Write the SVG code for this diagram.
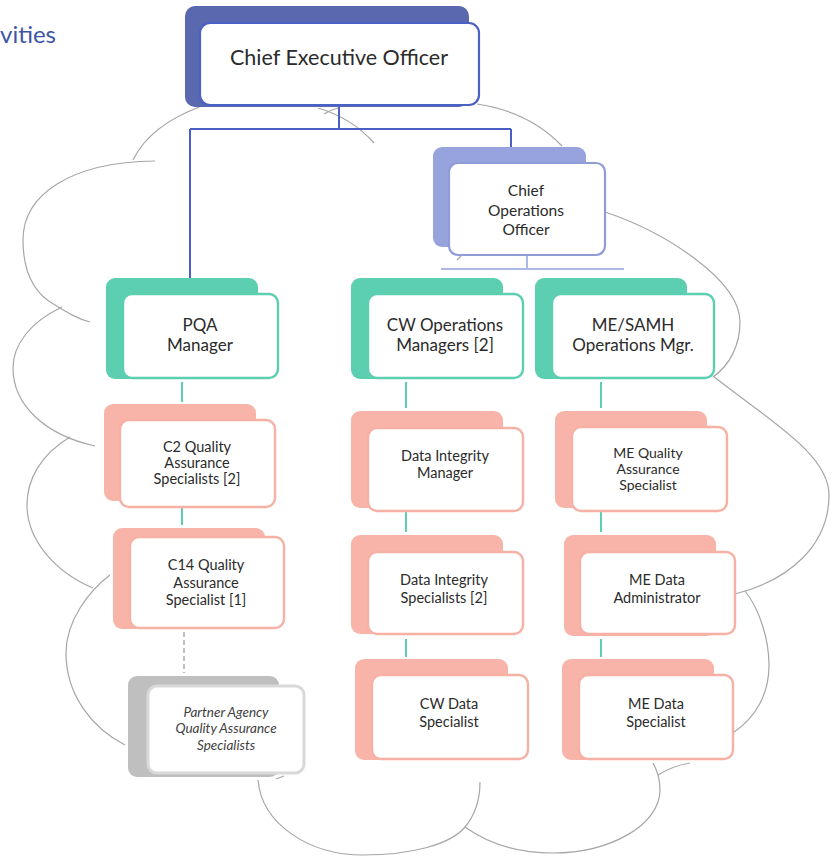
<svg xmlns="http://www.w3.org/2000/svg" width="833" height="856" viewBox="0 0 833 856">
<style>
.cloud{fill:none;stroke:#A6A6A6;stroke-width:1.2}
.t{font-family:Lato,"Open Sans","Liberation Sans",sans-serif;fill:#2B2B2B;text-anchor:middle}
.ceoB{fill:#5A68B0}
.ceoF{fill:#fff;stroke:#4A62C6;stroke-width:2.2}
.cooB{fill:#96A3DC}
.cooF{fill:#fff;stroke:#8F9CD6;stroke-width:2.2}
.gB{fill:#5DCFB1}
.gF{fill:#fff;stroke:#5DCFB1;stroke-width:2.4}
.pB{fill:#F8B4A8}
.pF{fill:#fff;stroke:#F6B0A4;stroke-width:2.4}
.xB{fill:#BFBFBF}
.xF{fill:#fff;stroke:#D9D9D9;stroke-width:3}
.l1{stroke:#4A5FC5;stroke-width:2;fill:none}
.l2{stroke:#AEB8E6;stroke-width:2;fill:none}
.l3{stroke:#5DCFB1;stroke-width:2;fill:none}
.l4{stroke:#BFBFBF;stroke-width:2;fill:none;stroke-dasharray:5 3}
</style>
<text x="0" y="43" style="font-family:Lato,'Open Sans','Liberation Sans',sans-serif;font-size:24px;fill:#3F56A6">vities</text>
<g id="cloud">
<path class="cloud" d="M155,161 C70,162 23,195 23,240 C23,270 33,293 55,305 C68,313 78,319 90,322"/>
<path class="cloud" d="M133,160 Q150,125 202,106"/>
<path class="cloud" d="M318,108 Q352,118 374,143"/>
<path class="cloud" d="M324,114 Q330,110 338,108"/>
<path class="cloud" d="M477,104 Q530,112 562,146"/>
<path class="cloud" d="M457,260 L461,256"/>
<path class="cloud" d="M605,212 C665,232 740,280 740,322 C740,345 730,365 713,377"/>
<path class="cloud" d="M713,376 C773,423 829,455 829,495 C829,545 790,580 735,594"/>
<path class="cloud" d="M745,591 C760,610 769,640 769,665 C769,695 755,718 734,732"/>
<path class="cloud" d="M658,775 Q672,766 690,763"/>
<path class="cloud" d="M465,827 C490,845 520,853 553,853 C610,853 660,825 660,790 C660,780 657,770 653,763"/>
<path class="cloud" d="M258,780 C262,825 310,855 363,855 C410,855 450,845 465,827 C475,815 480,800 480,782"/>
<path class="cloud" d="M276,779 L284,776"/>
<path class="cloud" d="M62,307 C30,322 13,345 13,368 C13,405 45,435 95,446"/>
<path class="cloud" d="M70,437 C40,455 27,480 27,505 C27,540 55,572 93,588"/>
<path class="cloud" d="M110,575 C90,590 66,620 66,653 C66,695 92,728 125,745"/>
</g>
<g id="connectors">
<path class="l1" d="M339,107 V129 M190,129 H511 M190,129 V278 M511,129 V147"/>
<path class="l2" d="M527,256 V269 M441,269 H624"/>
<path class="l3" d="M182,382 V402 M182,507 V525 M406,382 V408 M406,512 V532 M406,639 V657 M601,382 V408 M601,512 V532 M601,639 V657"/>
<path class="l4" d="M184,632 V673"/>
</g>
<g id="ceo">
<rect class="ceoB" x="185" y="6" width="284" height="101" rx="10"/>
<rect class="ceoF" x="200" y="23" width="279" height="82" rx="10"/>
<text class="t" x="339" y="65" style="font-size:21.5px">Chief Executive Officer</text>
</g>
<g id="coo">
<rect class="cooB" x="433" y="147" width="153" height="100" rx="9"/>
<rect class="cooF" x="449" y="163" width="156" height="92" rx="9"/>
<text class="t" style="font-size:15.5px"><tspan x="526" y="196">Chief</tspan><tspan x="526" y="216">Operations</tspan><tspan x="526" y="235">Officer</tspan></text>
</g>
<g id="pqa">
<rect class="gB" x="106" y="278" width="152" height="101" rx="9"/>
<rect class="gF" x="123" y="294" width="155" height="84" rx="9"/>
<text class="t" style="font-size:17px"><tspan x="200" y="331">PQA</tspan><tspan x="200" y="351">Manager</tspan></text>
</g>
<g id="cwops">
<rect class="gB" x="351" y="278" width="152" height="101" rx="9"/>
<rect class="gF" x="368" y="294" width="155" height="84" rx="9"/>
<text class="t" style="font-size:17px"><tspan x="445" y="331">CW Operations</tspan><tspan x="445" y="351">Managers [2]</tspan></text>
</g>
<g id="meops">
<rect class="gB" x="535" y="278" width="152" height="101" rx="9"/>
<rect class="gF" x="552" y="294" width="162" height="84" rx="9"/>
<text class="t" style="font-size:17px"><tspan x="633" y="331">ME/SAMH</tspan><tspan x="633" y="351">Operations Mgr.</tspan></text>
</g>
<g id="c2qa">
<rect class="pB" x="104" y="404" width="152" height="97" rx="9"/>
<rect class="pF" x="120" y="420" width="155" height="87" rx="9"/>
<text class="t" style="font-size:14.5px"><tspan x="197" y="452">C2 Quality</tspan><tspan x="197" y="468">Assurance</tspan><tspan x="197" y="484">Specialists [2]</tspan></text>
</g>
<g id="c14qa">
<rect class="pB" x="113" y="528" width="152" height="101" rx="9"/>
<rect class="pF" x="130" y="537" width="154" height="91" rx="9"/>
<text class="t" style="font-size:14.5px"><tspan x="206" y="570">C14 Quality</tspan><tspan x="206" y="588">Assurance</tspan><tspan x="206" y="605">Specialist [1]</tspan></text>
</g>
<g id="partner">
<rect class="xB" x="128" y="676" width="151" height="101" rx="9"/>
<rect class="xF" x="148" y="686" width="156" height="87" rx="9"/>
<text class="t" style="font-size:13.5px;font-style:italic;fill:#404040"><tspan x="226" y="717">Partner Agency</tspan><tspan x="226" y="733">Quality Assurance</tspan><tspan x="226" y="750">Specialists</tspan></text>
</g>
<g id="dimgr">
<rect class="pB" x="351" y="411" width="152" height="97" rx="9"/>
<rect class="pF" x="368" y="428" width="155" height="83" rx="9"/>
<text class="t" style="font-size:14.5px"><tspan x="445" y="461">Data Integrity</tspan><tspan x="445" y="478">Manager</tspan></text>
</g>
<g id="dispec">
<rect class="pB" x="351" y="535" width="152" height="99" rx="9"/>
<rect class="pF" x="368" y="552" width="155" height="82" rx="9"/>
<text class="t" style="font-size:14.5px"><tspan x="444" y="585">Data Integrity</tspan><tspan x="444" y="603">Specialists [2]</tspan></text>
</g>
<g id="cwdata">
<rect class="pB" x="355" y="659" width="153" height="101" rx="9"/>
<rect class="pF" x="372" y="675" width="156" height="84" rx="9"/>
<text class="t" style="font-size:14.5px"><tspan x="449" y="709">CW Data</tspan><tspan x="449" y="727">Specialist</tspan></text>
</g>
<g id="meqa">
<rect class="pB" x="555" y="411" width="152" height="97" rx="9"/>
<rect class="pF" x="572" y="427" width="155" height="84" rx="9"/>
<text class="t" style="font-size:14px"><tspan x="648" y="458">ME Quality</tspan><tspan x="648" y="474">Assurance</tspan><tspan x="648" y="490">Specialist</tspan></text>
</g>
<g id="meadmin">
<rect class="pB" x="564" y="535" width="152" height="101" rx="9"/>
<rect class="pF" x="580" y="552" width="155" height="82" rx="9"/>
<text class="t" style="font-size:14.5px"><tspan x="657" y="585">ME Data</tspan><tspan x="657" y="603">Administrator</tspan></text>
</g>
<g id="medata">
<rect class="pB" x="562" y="659" width="152" height="101" rx="9"/>
<rect class="pF" x="579" y="675" width="154" height="84" rx="9"/>
<text class="t" style="font-size:14.5px"><tspan x="656" y="709">ME Data</tspan><tspan x="656" y="727">Specialist</tspan></text>
</g>
</svg>
